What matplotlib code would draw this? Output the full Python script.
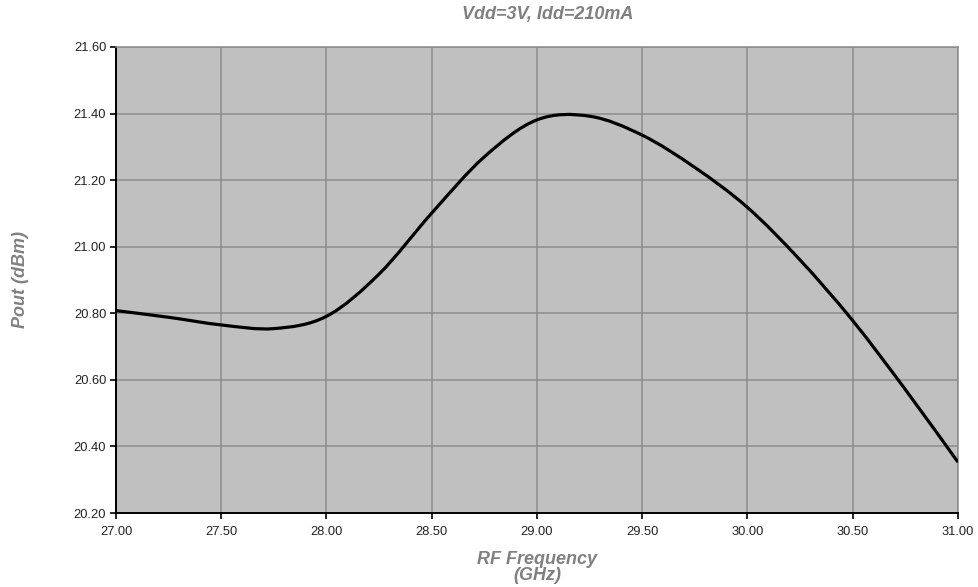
import matplotlib
matplotlib.use("Agg")
import matplotlib.pyplot as plt
import numpy as np
from matplotlib.path import Path
from matplotlib.patches import PathPatch

# data (GHz, dBm)
freq_ghz = [27.00, 27.25, 27.50, 27.75, 28.00, 28.25, 28.50, 28.75, 29.00,
            29.25, 29.50, 29.75, 30.00, 30.25, 30.50, 30.75, 31.00]
pout_dbm = [20.808, 20.788, 20.765, 20.754, 20.791, 20.918, 21.101, 21.270, 21.381,
            21.392, 21.335, 21.238, 21.118, 20.960, 20.778, 20.571, 20.353]

x_ticks = [27.0, 27.5, 28.0, 28.5, 29.0, 29.5, 30.0, 30.5, 31.0]
y_ticks = [20.2, 20.4, 20.6, 20.8, 21.0, 21.2, 21.4, 21.6]

TITLE = "Vdd=3V, Idd=210mA"
XLABEL = "RF Frequency\n(GHz)"
YLABEL = "Pout (dBm)"

plt.rcParams["font.family"] = ["Liberation Sans", "DejaVu Sans"]


def smooth_path(x, y, tension=1.0 / 6.0):
    """Catmull-Rom style bezier path, like a spreadsheet 'smoothed line'."""
    x = np.asarray(x, float)
    y = np.asarray(y, float)
    verts = [(x[0], y[0])]
    codes = [Path.MOVETO]
    n = len(x)
    for i in range(n - 1):
        i0 = max(i - 1, 0)
        i3 = min(i + 2, n - 1)
        c1 = (x[i] + (x[i + 1] - x[i0]) * tension, y[i] + (y[i + 1] - y[i0]) * tension)
        c2 = (x[i + 1] - (x[i3] - x[i]) * tension, y[i + 1] - (y[i3] - y[i]) * tension)
        verts += [c1, c2, (x[i + 1], y[i + 1])]
        codes += [Path.CURVE4] * 3
    return Path(verts, codes)


fig = plt.figure(figsize=(9.79, 5.87), dpi=100)
ax = fig.add_axes([0.1185, 0.126, 0.86, 0.794])
ax.set_facecolor("#c0c0c0")

ax.add_patch(PathPatch(smooth_path(freq_ghz, pout_dbm), facecolor="none",
                       edgecolor="black", lw=2.3, capstyle="butt", zorder=3))

ax.set_xlim(27.0, 31.0)
ax.set_ylim(20.2, 21.6)
ax.set_xticks(x_ticks)
ax.set_yticks(y_ticks)
ax.set_xticklabels([f"{v:.2f}" for v in x_ticks])
ax.set_yticklabels([f"{v:.2f}" for v in y_ticks])
ax.tick_params(axis="both", direction="out", length=4, width=1.2, color="black",
               labelsize=9.3, labelcolor="#222222")
ax.tick_params(axis="x", pad=5)
ax.tick_params(axis="y", pad=3)

ax.grid(True, color="#8c8c8c", lw=1.1)
ax.set_axisbelow(True)

for side in ("top", "right"):
    ax.spines[side].set_color("#8c8c8c")
    ax.spines[side].set_linewidth(1.1)
for side in ("left", "bottom"):
    ax.spines[side].set_color("black")
    ax.spines[side].set_linewidth(1.4)

label_style = dict(color="#808080", fontsize=13, fontweight="bold", fontstyle="italic")
fig.text(0.559, 0.976, TITLE, ha="center", va="center", **label_style)
fig.text(0.549, 0.033, XLABEL, ha="center", va="center", linespacing=0.97, **label_style)
fig.text(0.021, 0.523, YLABEL, ha="center", va="center", rotation=90, **label_style)

fig.savefig("out.png", dpi=100)
